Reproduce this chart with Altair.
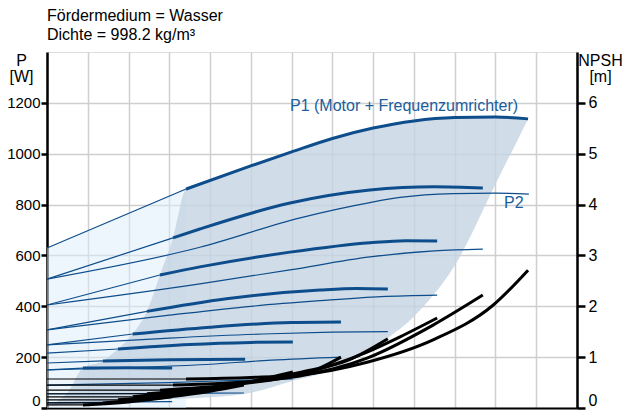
import altair as alt
import pandas as pd

# ---------------- data ----------------
x_grid = list(range(0, 14))
p_ticks = [0, 200, 400, 600, 800, 1000, 1200]
npsh_ticks = [0, 1, 2, 3, 4, 5, 6]

header_lines = ["Fördermedium = Wasser", "Dichte = 998.2 kg/m³"]

# x where each speed curve becomes thick (start of operating range)
thick_from = [3.41, 3.09, 2.77, 2.45, 2.1, 1.74, 1.37, 0.88]

# P1 (motor + frequency converter) curves, W
p1_x = [
    [0, 3.41, 4.98, 6.0, 7.0, 8.0, 9.0, 10.0, 11.0, 11.8],
    [0, 3.09, 3.75, 5.96, 7.92, 9.5, 10.69],
    [0, 2.77, 3.75, 5.96, 7.92, 8.8, 9.57],
    [0, 2.45, 4.4, 6.7, 7.6, 8.36],
    [0, 2.1, 4.0, 6.0, 7.21],
    [0, 1.74, 3.5, 5.0, 6.03],
    [0, 1.37, 3.0, 4.86],
    [0, 0.88, 2.0, 3.07],
]
p1_w = [
    [629, 861, 951, 1007, 1060, 1101, 1129, 1142, 1144, 1137],
    [507, 669, 704, 806, 857, 870, 865],
    [405, 523, 555, 613, 650, 658, 657],
    [307, 380, 430, 464, 470, 468],
    [248, 291, 318, 336, 338],
    [216, 232, 250, 258, 260],
    [177, 185, 190, 192],
    [150, 157, 158, 157],
]

# P2 curves, W
p2_x = [
    [0, 3.75, 6.21, 7.92, 8.66, 9.96, 11.0, 11.82],
    [0, 3.75, 5.96, 7.92, 9.5, 10.69],
    [0, 3.0, 5.0, 6.7, 8.2, 9.57],
    [0, 3.0, 5.5, 7.0, 8.36],
    [0, 3.75, 5.5, 7.21],
    [0, 3.0, 4.5, 6.03],
    [0, 2.5, 4.83],
    [0, 1.5, 3.07],
]
p2_w = [
    [507, 632, 748, 808, 828, 843, 845, 841],
    [405, 488, 543, 594, 618, 625],
    [307, 365, 400, 422, 438, 444],
    [248, 275, 292, 298, 300],
    [150, 170, 188, 200],
    [90, 100, 108, 114],
    [55, 57, 59],
    [20, 23, 25],
]

# NPSH curves, m
npsh_x = [
    [0, 3.41, 5.0, 6.2, 7.85, 9.47, 10.94, 11.8],
    [0, 3.09, 5.0, 6.2, 7.85, 9.47, 10.69],
    [0, 2.77, 4.5, 6.2, 7.85, 8.66, 9.57],
    [0, 2.45, 4.5, 6.2, 7.42, 8.36],
    [0, 2.1, 4.0, 5.5, 6.62, 7.21],
    [0, 1.74, 3.5, 5.0, 6.03],
    [0, 1.37, 3.0, 4.0, 4.83],
    [0, 0.88, 2.0, 3.07],
]
npsh_m = [
    [0.57, 0.57, 0.60, 0.65, 0.90, 1.34, 2.02, 2.71],
    [0.45, 0.45, 0.52, 0.63, 0.98, 1.63, 2.22],
    [0.35, 0.35, 0.45, 0.66, 1.10, 1.40, 1.77],
    [0.28, 0.28, 0.45, 0.70, 0.95, 1.36],
    [0.22, 0.22, 0.40, 0.58, 0.76, 1.00],
    [0.16, 0.16, 0.30, 0.52, 0.71],
    [0.10, 0.10, 0.22, 0.33, 0.45],
    [0.06, 0.06, 0.12, 0.22],
]

# shaded operating range (dark) and extension (light)
dark_x = [0.07, 0.5, 0.88, 1.37, 1.74, 2.1, 2.45, 2.77, 3.09, 3.41, 4.0, 5.0,
          6.0, 7.0, 8.0, 9.0, 10.0, 11.0, 11.8]
dark_top = [10, 60, 157, 185, 232, 291, 380, 523, 669, 861, 895, 951,
            1007, 1060, 1101, 1129, 1142, 1144, 1137]
dark_bottom = [8, 14, 18, 22, 25, 28, 30, 33, 35, 37, 42, 60,
               105, 150, 238, 360, 560, 880, 1137]
light_x = [0, 3.41]
light_top = [629, 861]
light_bottom = [0, 0]

label_text = ["P1 (Motor + Frequenzumrichter)", "P2"]
label_x = [5.96, 11.21]
label_p = [1168, 787]

# ---------------- tables ----------------
prow = []
for i in range(len(p1_x)):
    t = thick_from[i]
    for seg in ["thin", "thick"]:
        for x, p in zip(p1_x[i], p1_w[i]):
            if (seg == "thin" and x <= t) or (seg == "thick" and x >= t):
                prow.append(dict(key=f"P1_{i}_{seg}", seg=seg, x=x, P=p))
    for x, p in zip(p2_x[i], p2_w[i]):
        prow.append(dict(key=f"P2_{i}", seg="thin", x=x, P=p))
pdf = pd.DataFrame(prow)

nrow = []
for i in range(len(npsh_x)):
    t = thick_from[i]
    for seg in ["thin", "thick"]:
        for x, h in zip(npsh_x[i], npsh_m[i]):
            if (seg == "thin" and x <= t) or (seg == "thick" and x >= t):
                nrow.append(dict(key=f"N_{i}_{seg}", seg=seg, x=x, H=h))
ndf = pd.DataFrame(nrow)

dark_df = pd.DataFrame(dict(x=dark_x, top=dark_top, bottom=dark_bottom))
light_df = pd.DataFrame(dict(x=light_x, top=light_top, bottom=light_bottom))
lab_df = pd.DataFrame(dict(text=label_text, x=label_x, P=label_p))
one = pd.DataFrame(dict(a=[0]))

# ---------------- chart ----------------
FONT = "Liberation Sans"
BLUE = "#0d4d8b"
xs = alt.Scale(domain=[0, 13], nice=False, zero=False)
ys = alt.Scale(domain=[0, 1400], nice=False)

x_axis = alt.Axis(values=x_grid, grid=True, gridColor="#cfcfcf", gridWidth=1.5,
                  labels=False, ticks=False, domain=True, domainColor="black",
                  domainWidth=2, title=None)
y_axis = alt.Axis(values=p_ticks, format="d", grid=True, gridColor="#cfcfcf",
                  gridWidth=1.5, domainColor="black", domainWidth=2.5,
                  tickColor="black", tickWidth=2.5, tickSize=6, labelFontSize=15,
                  labelPadding=1, labelColor="black", labelFont=FONT,
                  labelFlush=True,
                  title=["P", "[W]"], titleAngle=0, titleAlign="center",
                  titleBaseline="top", titleX=-26, titleY=0, titleFontSize=16,
                  titleFontWeight="normal", titleLineHeight=16, titleFont=FONT,
                  titleColor="black")

light = alt.Chart(light_df).mark_area(color="#ddedfb", opacity=0.5).encode(
    x=alt.X("x:Q", scale=xs, axis=x_axis),
    y=alt.Y("top:Q", scale=ys, axis=y_axis),
    y2="bottom:Q",
)
dark = alt.Chart(dark_df).mark_area(color="#c4d3e2", opacity=0.8,
                                     interpolate="monotone").encode(
    x=alt.X("x:Q", scale=xs),
    y=alt.Y("top:Q", scale=ys),
    y2="bottom:Q",
)
plines = alt.Chart(pdf).mark_line(color=BLUE, interpolate="monotone").encode(
    x=alt.X("x:Q", scale=xs),
    y=alt.Y("P:Q", scale=ys),
    detail="key:N",
    strokeWidth=alt.StrokeWidth("seg:N", scale=alt.Scale(domain=["thin", "thick"],
                                range=[1.2, 3]), legend=None),
)
labels = alt.Chart(lab_df).mark_text(align="left", baseline="alphabetic",
                                      fontSize=16, font=FONT, color="#1b5e9e").encode(
    x=alt.X("x:Q", scale=xs),
    y=alt.Y("P:Q", scale=ys),
    text="text:N",
)
head1 = alt.Chart(one).mark_text(align="left", baseline="alphabetic", fontSize=16,
                                  font=FONT, color="black",
                                  text=header_lines[0]).encode(
    x=alt.value(0), y=alt.value(-31))
head2 = alt.Chart(one).mark_text(align="left", baseline="alphabetic", fontSize=16,
                                  font=FONT, color="black",
                                  text=header_lines[1]).encode(
    x=alt.value(0), y=alt.value(-12.5))

left = alt.layer(light, dark, plines, labels, head1, head2)

n_axis = alt.Axis(orient="right", values=npsh_ticks, format="d", grid=False,
                  domainColor="black", domainWidth=2.5, tickColor="black",
                  tickWidth=2.5, tickSize=8, labelFontSize=16, labelPadding=3,
                  labelColor="black", labelFont=FONT, labelFlush=True,
                  title=["NPSH", "[m]"], titleAngle=0, titleAlign="center",
                  titleBaseline="top", titleX=23, titleY=0, titleFontSize=16,
                  titleFontWeight="normal", titleLineHeight=16, titleFont=FONT,
                  titleColor="black")
nlines = alt.Chart(ndf).mark_line(color="black", interpolate="monotone").encode(
    x=alt.X("x:Q", scale=xs),
    y=alt.Y("H:Q", scale=alt.Scale(domain=[0, 7], nice=False), axis=n_axis),
    detail="key:N",
    strokeWidth=alt.StrokeWidth("seg:N", scale=alt.Scale(domain=["thin", "thick"],
                                range=[1.2, 2.5]), legend=None),
)

chart = alt.layer(left, nlines).resolve_scale(y="independent").properties(
    width=530, height=356,
    padding={"left": 39, "top": 44, "right": 46, "bottom": 3},
    autosize=alt.AutoSizeParams(type="none"),
).configure_view(stroke="black", strokeWidth=2).configure(font=FONT)

chart.save("out.html", embed_options={"renderer": "svg", "actions": False})
